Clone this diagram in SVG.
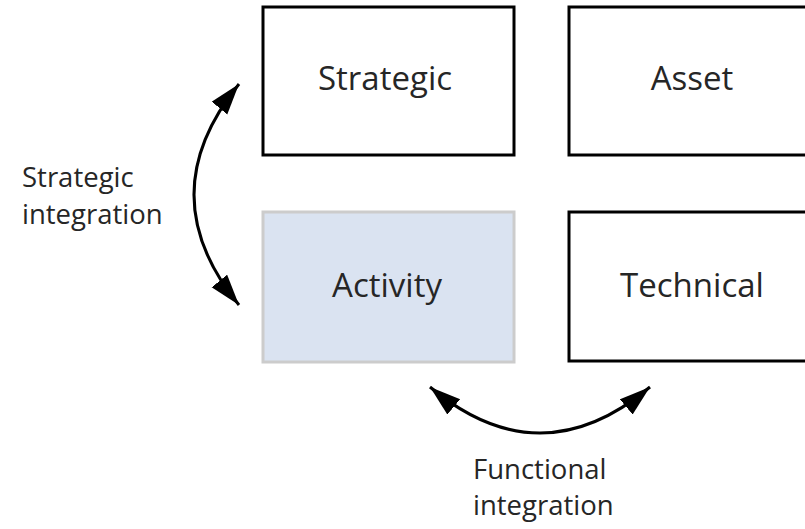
<svg xmlns="http://www.w3.org/2000/svg" width="805" height="529" viewBox="0 0 805 529">
<style>
.box{fill:#ffffff;stroke:#000000;stroke-width:3}
.act{fill:#dae3f1;stroke:#cccccc;stroke-width:3}
.lbl{font-family:"Open Sans","Noto Sans",sans-serif;font-size:33px;fill:#262626;text-anchor:middle}
.cap{font-family:"Open Sans","Noto Sans",sans-serif;font-size:27.5px;fill:#262626}
.arc{fill:none;stroke:#000000;stroke-width:3}
</style>
<defs>
<marker id="ah" markerUnits="userSpaceOnUse" markerWidth="32" markerHeight="22" refX="31" refY="10" orient="auto-start-reverse" viewBox="0 0 32 22">
<path d="M0,0 L31,10 L0,20 z" fill="#000000"/>
</marker>
</defs>
<rect width="805" height="529" fill="#ffffff"/>
<g id="strategic">
<rect class="box" x="263" y="7" width="251" height="148"/>
<text class="lbl" x="385" y="90">Strategic</text>
</g>
<g id="asset">
<rect class="box" x="569" y="7" width="250" height="148"/>
<text class="lbl" x="692" y="90">Asset</text>
</g>
<g id="activity">
<rect class="act" x="263" y="212" width="251" height="150"/>
<text class="lbl" x="387" y="297">Activity</text>
</g>
<g id="technical">
<rect class="box" x="569" y="212" width="250" height="149"/>
<text class="lbl" x="692" y="297">Technical</text>
</g>
<g id="connectors">
<path class="arc" d="M239 84 Q149 195 239 305" marker-start="url(#ah)" marker-end="url(#ah)"/>
<path class="arc" d="M430 387 Q540 479 650 387" marker-start="url(#ah)" marker-end="url(#ah)"/>
</g>
<g id="labels">
<text class="cap" x="22" y="187">Strategic</text>
<text class="cap" x="22" y="224">integration</text>
<text class="cap" x="473" y="479">Functional</text>
<text class="cap" x="473" y="515">integration</text>
</g>
</svg>
